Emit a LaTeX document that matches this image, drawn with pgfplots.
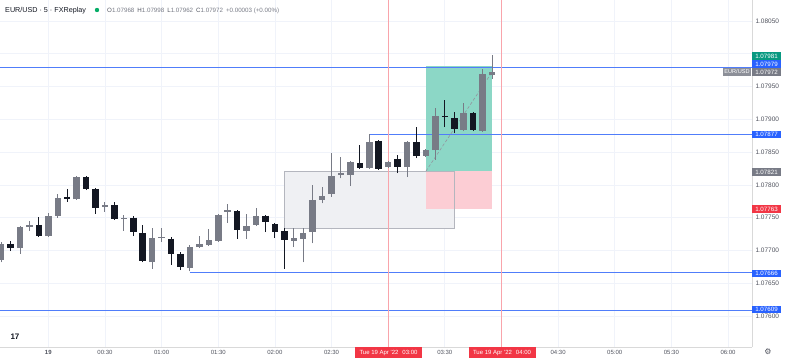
\documentclass[border=0pt]{standalone}
\usepackage{pgfplots}
\pgfplotsset{compat=1.18}
\usepackage{pgfplotstable}
\usepackage{fontspec}
\setmainfont{Liberation Sans}
\newfontfamily\symfont{DejaVu Sans}
\definecolor{gridc}{RGB}{240,243,250}
\definecolor{bullc}{RGB}{120,123,134}
\definecolor{bearc}{RGB}{19,23,34}
\definecolor{tvblue}{RGB}{41,98,255}
\definecolor{lineblue}{RGB}{80,125,250}
\definecolor{tvgreen}{RGB}{8,153,129}
\definecolor{tvred}{RGB}{242,54,69}
\definecolor{tvgray}{RGB}{120,123,134}
\definecolor{greenzone}{RGB}{140,215,198}
\definecolor{pinkzone}{RGB}{252,205,212}
\definecolor{rectfill}{RGB}{239,240,243}
\definecolor{rectdraw}{RGB}{180,182,190}
\definecolor{axtext}{RGB}{80,83,94}

\pgfplotstableread{
t o h l c
-25 1.07686 1.07713 1.07682 1.07710
-15 1.07704 1.07737 1.07695 1.07736
-10 1.07736 1.07745 1.07730 1.07739
0 1.07722 1.07757 1.07721 1.07753
5 1.07753 1.07786 1.07750 1.07780
15 1.07778 1.07814 1.07777 1.07812
30 1.07766 1.07774 1.07759 1.07769
40 1.07748 1.07754 1.07730 1.07750
55 1.07682 1.07734 1.07672 1.07719
60 1.07719 1.07734 1.07713 1.07721
75 1.07673 1.07708 1.07668 1.07705
80 1.07705 1.07722 1.07704 1.07710
85 1.07708 1.07733 1.07707 1.07716
90 1.07715 1.07756 1.07713 1.07754
95 1.07759 1.07771 1.07742 1.07762
105 1.07730 1.07756 1.07718 1.07737
110 1.07739 1.07765 1.07737 1.07753
130 1.07715 1.07734 1.07705 1.07719
135 1.07718 1.07734 1.07682 1.07727
140 1.07728 1.07800 1.07711 1.07777
145 1.07777 1.07797 1.07772 1.07783
150 1.07786 1.07849 1.07782 1.07814
155 1.07815 1.07843 1.07810 1.07818
160 1.07815 1.07837 1.07798 1.07835
170 1.07826 1.07877 1.07824 1.07865
180 1.07827 1.07837 1.07826 1.07835
190 1.07827 1.07867 1.07812 1.07865
200 1.07844 1.07855 1.07843 1.07853
205 1.07853 1.07917 1.07838 1.07905
220 1.07884 1.07925 1.07882 1.07910
230 1.07882 1.07977 1.07881 1.07969
235 1.07968 1.07998 1.07962 1.07972
}\bulltab

\pgfplotstableread{
t o h l c
-20 1.07710 1.07715 1.07699 1.07704
-5 1.07739 1.07751 1.07721 1.07722
10 1.07782 1.07794 1.07774 1.07778
20 1.07812 1.07814 1.07792 1.07794
25 1.07794 1.07795 1.07756 1.07765
35 1.07769 1.07774 1.07747 1.07748
45 1.07750 1.07753 1.07722 1.07728
50 1.07727 1.07739 1.07682 1.07684
65 1.07718 1.07721 1.07678 1.07695
70 1.07695 1.07698 1.07670 1.07675
100 1.07760 1.07762 1.07718 1.07731
115 1.07753 1.07754 1.07728 1.07743
120 1.07740 1.07742 1.07719 1.07728
125 1.07730 1.07734 1.07672 1.07716
165 1.07833 1.07861 1.07824 1.07826
175 1.07867 1.07869 1.07823 1.07824
185 1.07840 1.07846 1.07818 1.07827
195 1.07865 1.07888 1.07841 1.07844
210 1.07905 1.07930 1.07888 1.07903
215 1.07902 1.07911 1.07879 1.07885
225 1.07910 1.07911 1.07882 1.07884
}\beartab

\begin{document}
\begin{tikzpicture}[x=1pt,y=1pt]
\begin{axis}[
  at={(0pt,17pt)}, anchor=south west, scale only axis,
  width=752pt, height=347pt,
  xmin=-25.6, xmax=372.7, ymin=1.075528, ymax=1.08082,
  axis x line*=bottom, axis y line*=right,
  axis line style={draw=black!15, line width=0.6pt, -},
  xtick={0,30,60,90,120,150,180,210,240,270,300,330,360},
  xticklabels={\textbf{19},00:30,01:00,01:30,02:00,02:30,{},03:30,{},04:30,05:00,05:30,06:00},
  ytick={1.0760,1.0765,1.0770,1.0775,1.0780,1.0785,1.0790,1.0795,1.0800,1.0805},
  yticklabels={1.07600,1.07650,1.07700,1.07750,1.07800,1.07850,1.07900,1.07950,{},1.08050},
  major tick length=0pt,
  grid=major, major grid style={draw=gridc, line width=0.7pt},
  tick label style={text=axtext},
  xticklabel style={font=\fontsize{6}{6}\selectfont, anchor=base, yshift=-8pt},
  yticklabel style={font=\fontsize{6.5}{6.5}\selectfont, anchor=west},
]
% gray zone
\addplot[fill=rectfill, draw=none] coordinates {(125,1.07734) (215,1.07734) (215,1.07821) (125,1.07821)} --cycle;
% long position
\addplot[fill=greenzone, draw=none] coordinates {(200,1.07821) (235,1.07821) (235,1.07981) (200,1.07981)} --cycle;
\addplot[fill=pinkzone, draw=none] coordinates {(200,1.07763) (235,1.07763) (235,1.07821) (200,1.07821)} --cycle;
\addplot[draw=rectdraw, line width=0.6pt] coordinates {(125,1.07734) (215,1.07734) (215,1.07821) (125,1.07821)} --cycle;
\addplot[densely dashed, color=bullc!80, line width=0.6pt] coordinates {(200,1.07821) (235,1.07972)};
% horizontal levels
\addplot[lineblue, line width=0.7pt] coordinates {(-30,1.07979) (380,1.07979)};
\addplot[lineblue, line width=0.7pt] coordinates {(170,1.07877) (380,1.07877)};
\addplot[lineblue, line width=0.7pt] coordinates {(75,1.07666) (380,1.07666)};
\addplot[lineblue, line width=0.7pt] coordinates {(-30,1.07609) (380,1.07609)};
% vertical session lines
\addplot[tvred!45, line width=0.9pt] coordinates {(180,1.07553) (180,1.08082)};
\addplot[tvred!45, line width=0.9pt] coordinates {(240,1.07553) (240,1.08082)};
% candles
\addplot[bullc, line width=1pt, quiver={u=0, v=\thisrow{h}-\thisrow{l}}] table[x=t, y=l] {\bulltab};
\addplot[bullc, line width=6.5pt, quiver={u=0, v=\thisrow{c}-\thisrow{o}}] table[x=t, y=o] {\bulltab};
\addplot[bearc, line width=1pt, quiver={u=0, v=\thisrow{h}-\thisrow{l}}] table[x=t, y=l] {\beartab};
\addplot[bearc, line width=6.5pt, quiver={u=0, v=\thisrow{c}-\thisrow{o}}] table[x=t, y=o] {\beartab};
\end{axis}

% header
\node[anchor=base west, inner sep=0pt, font=\fontsize{7.2}{8}\selectfont, text=bearc] at (5,351.5) {EUR/USD · 5 · FXReplay};
\fill[tvgreen!80!green] (97,354) circle (2.2);
\node[anchor=base west, inner sep=0pt, font=\fontsize{6.2}{7}\selectfont, text=bullc] at (107,351.5)
  {{\color{axtext}O}1.07968\hspace{3pt}{\color{axtext}H}1.07998\hspace{3pt}{\color{axtext}L}1.07962\hspace{3pt}{\color{axtext}C}1.07972\hspace{3pt}+0.00003 (+0.00\%)};

% price scale labels
\tikzset{plab/.style={fill=#1, text=white, font=\fontsize{6.2}{6.2}\selectfont, minimum width=29pt, minimum height=7.6pt, inner sep=0pt, anchor=center}}
\node[plab=tvgreen] at (766.5,308) {1.07981};
\node[plab=tvblue] at (766.5,300) {1.07979};
\node[plab=tvgray] at (766.5,292) {1.07972};
\node[plab=tvgray!85, minimum width=28pt, font=\fontsize{5.6}{5.6}\selectfont] at (737,292) {EUR/USD};
\node[plab=tvblue] at (766.5,229.5) {1.07877};
\node[plab=tvgray] at (766.5,192) {1.07821};
\node[plab=tvred] at (766.5,155) {1.07763};
\node[plab=tvblue] at (766.5,90.5) {1.07666};
\node[plab=tvblue] at (766.5,54.5) {1.07609};

% time scale labels
\node[fill=tvred, text=white, font=\fontsize{6}{6}\selectfont, minimum width=67pt, minimum height=11pt, inner sep=0pt] at (388.5,11) {Tue 19 Apr \textquotesingle22\hspace{4pt}03:00};
\node[fill=tvred, text=white, font=\fontsize{6}{6}\selectfont, minimum width=67pt, minimum height=11pt, inner sep=0pt] at (502,11) {Tue 19 Apr \textquotesingle22\hspace{4pt}04:00};

% logo and settings icon
\node[font=\bfseries\fontsize{8}{8}\selectfont, text=bearc] at (15,27) {17};
\node[font=\symfont\fontsize{8}{8}\selectfont, text=axtext] at (768,12) {⚙};
\pgfresetboundingbox
\useasboundingbox (0,0) rectangle (785,364);
\end{tikzpicture}
\end{document}
